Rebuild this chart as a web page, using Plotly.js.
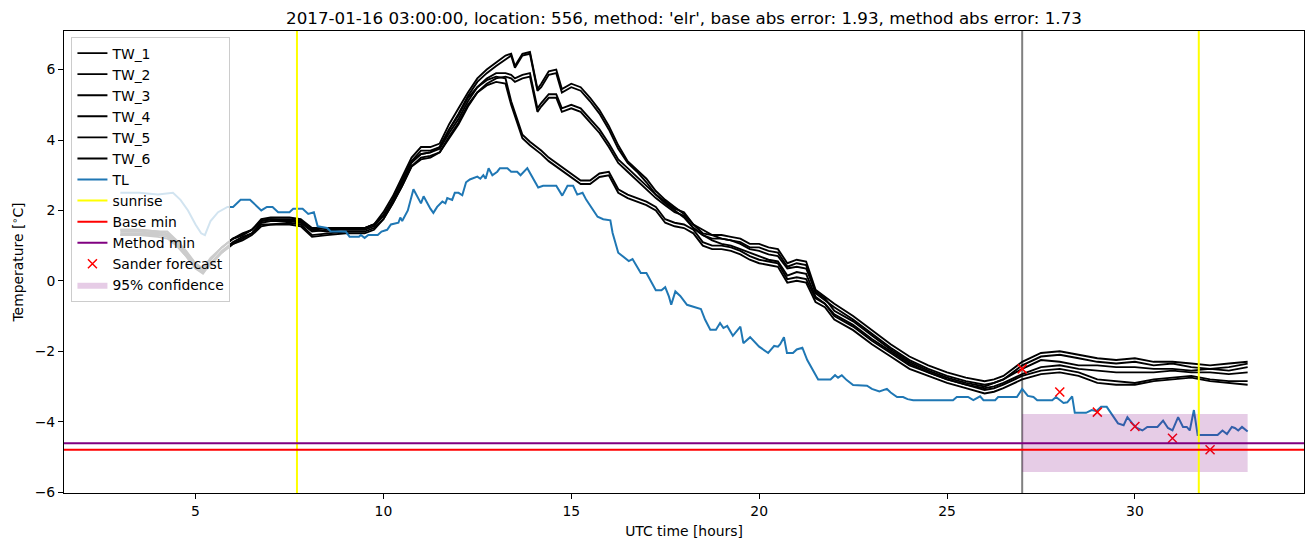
<!DOCTYPE html>
<html>
<head>
<meta charset="utf-8">
<script src="https://cdn.plot.ly/plotly-3.0.1.min.js"></script>
<style>html,body{margin:0;padding:0;background:#fff;}#chart{width:1313px;height:547px;}</style>
</head>
<body>
<div id="chart"></div>
<script>
// ---------------- DATA ----------------
const chartTitle = "2017-01-16 03:00:00, location: 556, method: 'elr', base abs error: 1.93, method abs error: 1.73";

const twHours = [
  3, 3.5, 4, 4.25, 4.5, 4.75, 5, 5.2, 5.4, 5.7,
  6, 6.25, 6.5, 6.75, 7, 7.5, 7.8, 8.1, 8.5, 9,
  9.5, 9.75, 10, 10.25, 10.5, 10.75, 11, 11.25, 11.5, 11.75,
  12, 12.25, 12.5, 12.75, 13, 13.25, 13.4, 13.5, 13.7, 13.9,
  14.1, 14.2, 14.4, 14.6, 14.75, 15, 15.25, 15.5, 15.75, 16,
  16.25, 16.5, 16.75, 17, 17.25, 17.5, 17.75, 18, 18.25, 18.5,
  18.75, 19, 19.25, 19.5, 19.75, 20, 20.25, 20.5, 20.75, 21,
  21.25, 21.5, 21.75, 22, 22.5, 23, 23.5, 24, 24.5, 25,
  25.5, 26, 26.25, 26.5, 27, 27.5, 28, 28.5, 29, 29.5,
  30, 30.5, 31, 31.5, 32, 32.5, 33
];

const tw1 = [
  1.45, 1.45, 1.4, 1.35, 1.1, 0.8, 0.45, 0.3, 0.6, 0.95,
  1.2, 1.3, 1.45, 1.75, 1.8, 1.8, 1.75, 1.5, 1.5, 1.5,
  1.5, 1.6, 1.95, 2.4, 2.95, 3.5, 3.8, 3.8, 3.9, 4.45,
  4.9, 5.35, 5.75, 6.0, 6.2, 6.4, 6.45, 6.1, 6.45, 6.5,
  5.45, 5.6, 5.95, 6.0, 5.45, 5.6, 5.5, 5.2, 4.85, 4.4,
  3.85, 3.4, 3.15, 2.9, 2.55, 2.3, 2.1, 1.9, 1.6, 1.35,
  1.3, 1.3, 1.25, 1.2, 1.05, 1.05, 0.95, 0.9, 0.5, 0.6,
  0.55, -0.25, -0.45, -0.65, -1.0, -1.4, -1.8, -2.15, -2.4, -2.6,
  -2.75, -2.85, -2.8, -2.7, -2.3, -2.05, -2.0, -2.1, -2.2, -2.25,
  -2.2, -2.3, -2.3, -2.35, -2.4, -2.35, -2.3
];
const tw2 = [
  1.35, 1.35, 1.35, 1.3, 1.05, 0.75, 0.4, 0.3, 0.5, 0.85,
  1.1, 1.25, 1.35, 1.65, 1.7, 1.7, 1.65, 1.4, 1.45, 1.45,
  1.45, 1.55, 1.85, 2.3, 2.85, 3.4, 3.7, 3.7, 3.8, 4.3,
  4.75, 5.25, 5.65, 5.9, 6.1, 6.3, 6.4, 6.05, 6.4, 6.45,
  5.4, 5.5, 5.85, 5.9, 5.35, 5.5, 5.4, 5.1, 4.75, 4.3,
  3.75, 3.35, 3.1, 2.8, 2.45, 2.2, 2.0, 1.8, 1.5, 1.3,
  1.2, 1.2, 1.15, 1.1, 0.95, 0.95, 0.85, 0.8, 0.4, 0.5,
  0.45, -0.35, -0.55, -0.75, -1.1, -1.5, -1.9, -2.25, -2.5, -2.7,
  -2.85, -2.95, -2.9, -2.8, -2.4, -2.15, -2.1, -2.2, -2.3, -2.35,
  -2.3, -2.4, -2.35, -2.45, -2.5, -2.45, -2.35
];
const tw3 = [
  1.45, 1.45, 1.4, 1.4, 1.15, 0.85, 0.5, 0.35, 0.65, 0.95,
  1.2, 1.35, 1.45, 1.7, 1.75, 1.7, 1.7, 1.45, 1.5, 1.5,
  1.5, 1.6, 1.85, 2.3, 2.8, 3.35, 3.6, 3.65, 3.75, 4.2,
  4.6, 5.1, 5.5, 5.75, 5.9, 5.9, 5.85, 5.75, 5.85, 5.9,
  4.9, 5.05, 5.3, 5.3, 4.9, 5.0, 4.9, 4.6, 4.3, 3.9,
  3.45, 3.2, 2.95, 2.7, 2.45, 2.25, 2.05, 1.95, 1.6, 1.45,
  1.3, 1.2, 1.15, 1.05, 0.9, 0.85, 0.75, 0.7, 0.35, 0.4,
  0.35, -0.3, -0.5, -0.85, -1.15, -1.55, -1.95, -2.3, -2.55, -2.75,
  -2.9, -3.0, -2.9, -2.8, -2.5, -2.25, -2.3, -2.4, -2.4, -2.45,
  -2.45, -2.5, -2.5, -2.55, -2.5, -2.55, -2.45
];
const tw4 = [
  1.3, 1.3, 1.3, 1.25, 1.0, 0.7, 0.35, 0.2, 0.5, 0.8,
  1.05, 1.2, 1.35, 1.6, 1.6, 1.65, 1.6, 1.3, 1.35, 1.4,
  1.4, 1.5, 1.75, 2.2, 2.7, 3.25, 3.5, 3.55, 3.65, 4.05,
  4.45, 4.95, 5.35, 5.6, 5.75, 5.8, 5.75, 5.65, 5.75, 5.8,
  4.8, 4.95, 5.2, 5.2, 4.8, 4.9, 4.8, 4.5, 4.2, 3.8,
  3.35, 3.1, 2.85, 2.6, 2.35, 2.15, 1.95, 1.85, 1.5, 1.3,
  1.15, 1.05, 1.0, 0.9, 0.8, 0.7, 0.6, 0.55, 0.15, 0.25,
  0.2, -0.45, -0.65, -0.95, -1.25, -1.65, -2.0, -2.35, -2.6, -2.8,
  -2.95, -3.05, -3.0, -2.9, -2.65, -2.45, -2.4, -2.5, -2.55, -2.6,
  -2.6, -2.6, -2.55, -2.6, -2.6, -2.65, -2.6
];
const tw5 = [
  1.4, 1.4, 1.35, 1.3, 1.1, 0.8, 0.45, 0.3, 0.6, 0.95,
  1.2, 1.3, 1.45, 1.7, 1.75, 1.75, 1.7, 1.45, 1.4, 1.5,
  1.5, 1.6, 1.85, 2.3, 2.85, 3.4, 3.6, 3.65, 3.8, 4.3,
  4.7, 5.2, 5.5, 5.7, 5.8, 5.75, 5.1, 4.8, 4.15, 3.95,
  3.8, 3.7, 3.5, 3.35, 3.25, 3.05, 2.85, 2.85, 3.05, 3.1,
  2.6, 2.45, 2.35, 2.25, 2.1, 1.75, 1.65, 1.6, 1.45, 1.1,
  1.0, 1.0, 0.95, 0.85, 0.7, 0.6, 0.55, 0.5, 0.05, 0.1,
  0.05, -0.5, -0.65, -1.0, -1.3, -1.7, -2.05, -2.4, -2.6, -2.8,
  -2.95, -3.1, -3.05, -2.95, -2.7, -2.55, -2.5, -2.6, -2.8, -2.85,
  -2.9, -2.8, -2.75, -2.7, -2.8, -2.85, -2.85
];
const tw6 = [
  1.3, 1.3, 1.25, 1.2, 1.0, 0.7, 0.35, 0.25, 0.45, 0.8,
  1.05, 1.15, 1.3, 1.55, 1.6, 1.6, 1.55, 1.25, 1.3, 1.35,
  1.35, 1.45, 1.75, 2.2, 2.7, 3.25, 3.45, 3.5, 3.65, 4.1,
  4.5, 5.0, 5.35, 5.55, 5.65, 5.6, 5.0, 4.7, 4.05, 3.85,
  3.7, 3.6, 3.4, 3.25, 3.15, 2.95, 2.75, 2.75, 2.95, 3.0,
  2.5, 2.35, 2.25, 2.15, 2.0, 1.65, 1.55, 1.5, 1.35, 1.0,
  0.9, 0.9, 0.85, 0.75, 0.6, 0.5, 0.45, 0.4, -0.05, 0.0,
  -0.05, -0.6, -0.75, -1.1, -1.4, -1.8, -2.15, -2.5, -2.7, -2.9,
  -3.05, -3.2, -3.15, -3.05, -2.8, -2.65, -2.6, -2.7, -2.9, -2.95,
  -2.95, -2.85, -2.8, -2.75, -2.85, -2.9, -2.95
];

const tlHours = [
  3.0, 3.5, 4.0, 4.4, 4.6, 4.8, 5.0, 5.15, 5.25, 5.4, 5.6, 5.85, 6.0, 6.1, 6.2, 6.45, 6.55, 6.75, 6.9, 7.05,
  7.2, 7.5, 7.6, 7.85, 8.0, 8.15, 8.25, 8.5, 8.6, 9.0, 9.1, 9.35, 9.4, 9.5, 9.6, 9.85, 9.95, 10.1, 10.2, 10.4,
  10.45, 10.5, 10.65, 10.8, 11.0, 11.07, 11.25, 11.33, 11.43, 11.57, 11.65, 11.7, 11.83, 11.9, 12.0, 12.1, 12.2, 12.3, 12.5, 12.58,
  12.66, 12.72, 12.8, 12.9, 13.03, 13.1, 13.3, 13.4, 13.56, 13.65, 13.83, 13.96, 14.12, 14.25, 14.6, 14.76, 14.9, 15.05, 15.16, 15.3,
  15.4, 15.7, 15.85, 16.04, 16.1, 16.25, 16.4, 16.53, 16.63, 16.75, 16.85, 17.0, 17.15, 17.25, 17.4, 17.5, 17.6, 17.66, 17.77, 17.9,
  18.08, 18.3, 18.45, 18.56, 18.7, 18.85, 18.96, 19.05, 19.15, 19.3, 19.5, 19.58, 19.76, 20.0, 20.24, 20.4, 20.5, 20.56, 20.66, 20.74,
  20.9, 21.0, 21.15, 21.28, 21.4, 21.57, 21.9, 22.02, 22.1, 22.2, 22.33, 22.5, 22.87, 23.0, 23.2, 23.4, 23.5, 23.67, 23.83, 23.95,
  24.1, 25.16, 25.26, 25.56, 25.7, 25.88, 25.97, 26.28, 26.36, 26.86, 27.0, 27.15, 27.3, 27.4, 27.8, 27.9, 28.1, 28.2, 28.33, 28.4,
  28.7, 28.85, 28.98, 29.1, 29.25, 29.4, 29.55, 29.7, 29.8, 29.93, 30.05, 30.2, 30.33, 30.6, 30.75, 30.88, 31.0, 31.15, 31.28, 31.38,
  31.46, 31.57, 31.67, 32.2, 32.33, 32.45, 32.58, 32.66, 32.75, 32.85, 33.0
];
const tlValues = [
  2.5, 2.5, 2.45, 2.5, 2.3, 2.0, 1.6, 1.35, 1.3, 1.7, 1.95, 2.1, 2.1, 2.2, 2.3, 2.3, 2.2, 2.0, 2.1, 2.1,
  1.95, 1.95, 2.05, 2.05, 1.9, 1.95, 1.55, 1.5, 1.4, 1.4, 1.25, 1.25, 1.3, 1.22, 1.3, 1.3, 1.4, 1.45, 1.6, 1.65,
  1.8, 1.7, 2.0, 2.6, 2.2, 2.4, 2.05, 1.93, 2.1, 2.25, 2.2, 2.35, 2.3, 2.5, 2.5, 2.43, 2.8, 2.88, 2.96, 2.9,
  3.0, 2.9, 3.2, 3.0, 3.1, 3.2, 3.2, 3.1, 3.1, 3.0, 3.2, 2.97, 2.65, 2.7, 2.7, 2.42, 2.7, 2.7, 2.45, 2.5,
  2.3, 1.82, 1.75, 1.72, 1.36, 0.8, 0.66, 0.56, 0.62, 0.4, 0.22, 0.22, -0.06, -0.27, -0.27, -0.18, -0.45, -0.68, -0.3, -0.43,
  -0.68, -0.75, -0.8, -1.1, -1.39, -1.39, -1.2, -1.34, -1.28, -1.56, -1.3, -1.77, -1.6, -1.87, -2.05, -1.85, -1.87, -1.8, -1.6, -2.05,
  -2.05, -1.95, -1.9, -2.25, -2.48, -2.8, -2.8, -2.68, -2.75, -2.68, -2.82, -2.96, -2.98, -3.07, -3.14, -3.07, -3.17, -3.3, -3.3, -3.36,
  -3.39, -3.39, -3.3, -3.3, -3.39, -3.28, -3.39, -3.39, -3.3, -3.3, -3.07, -3.27, -3.3, -3.39, -3.39, -3.3, -3.47, -3.45, -3.28, -3.75,
  -3.75, -3.67, -3.7, -3.58, -3.58, -3.8, -4.05, -4.1, -3.87, -4.05, -4.18, -4.25, -4.15, -4.15, -3.97, -4.18, -4.25, -3.87, -4.15, -4.15,
  -4.25, -3.67, -4.38, -4.38, -4.25, -4.35, -4.15, -4.18, -4.25, -4.15, -4.28
];

const sunriseHours = [7.7, 31.7];
const forecastHour = 27;
const baseMin = -4.8;
const methodMin = -4.61;

const sanderHours = [27, 28, 29, 30, 31, 32];
const sanderValues = [-2.5, -3.16, -3.73, -4.14, -4.47, -4.8];

const confHours = [27, 33];
const confLower = [-5.43, -5.43];
const confUpper = [-3.78, -3.78];

const twNames = ["TW_1", "TW_2", "TW_3", "TW_4", "TW_5", "TW_6"];
const twSeries = [tw1, tw2, tw3, tw4, tw5, tw6];

// ---------------- STYLE / BUILD ----------------
const FONT = "DejaVu Sans, Liberation Sans, sans-serif";
const LW = 2;
const traces = [];
twSeries.forEach((vals, i) => {
  traces.push({
    type: "scatter", mode: "lines", x: twHours, y: vals, name: twNames[i],
    line: {color: "#000000", width: 1.9}, legendrank: i + 1,
    legendgroup: "g" + i
  });
});
traces.push({
  type: "scatter", mode: "lines", x: tlHours, y: tlValues, name: "TL",
  line: {color: "#1f77b4", width: LW}, legendrank: 7, legendgroup: "g6"
});
traces.push({
  type: "scatter", mode: "markers", x: sanderHours, y: sanderValues, name: "Sander forecast",
  marker: {symbol: "x-thin", size: 9, color: "#ff0000", line: {color: "#ff0000", width: 1.5}},
  legendrank: 11, legendgroup: "g10"
});
traces.push({
  type: "scatter", mode: "lines",
  x: confHours.concat(confHours.slice().reverse()),
  y: confLower.concat(confUpper.slice().reverse()),
  fill: "toself", fillcolor: "rgba(128,0,128,0.2)",
  line: {width: 0, color: "rgba(128,0,128,0)"},
  name: "95% confidence", legendrank: 12, legendgroup: "g11"
});

const shapes = [];
shapes.push({type: "line", xref: "x", yref: "y domain", x0: forecastHour, x1: forecastHour, y0: 0, y1: 1,
  line: {color: "#808080", width: LW}, layer: "below"});
sunriseHours.forEach((h, i) => {
  shapes.push({type: "line", xref: "x", yref: "y domain", x0: h, x1: h, y0: 0, y1: 1,
    line: {color: "#ffff00", width: LW}, layer: "above",
    showlegend: i === 0, name: "sunrise", legendrank: 8, legendgroup: "g7"});
});
shapes.push({type: "line", xref: "x domain", yref: "y", x0: 0, x1: 1, y0: baseMin, y1: baseMin,
  line: {color: "#ff0000", width: LW}, layer: "above", showlegend: true, name: "Base min", legendrank: 9, legendgroup: "g8"});
shapes.push({type: "line", xref: "x domain", yref: "y", x0: 0, x1: 1, y0: methodMin, y1: methodMin,
  line: {color: "#800080", width: LW}, layer: "above", showlegend: true, name: "Method min", legendrank: 10, legendgroup: "g9"});

// matplotlib-like 5% data margins
const allX = twHours.concat(tlHours, sanderHours, confHours);
const allY = [].concat(tw1, tw2, tw3, tw4, tw5, tw6, tlValues, sanderValues, confLower, confUpper);
const xmin = Math.min(...allX), xmax = Math.max(...allX);
const ymin = Math.min(...allY), ymax = Math.max(...allY);
const xpad = (xmax - xmin) * 0.05, ypad = (ymax - ymin) * 0.05;

const axisCommon = {
  showline: true, mirror: true, linecolor: "#000", linewidth: 1,
  ticks: "outside", ticklen: 5, tickwidth: 1, tickcolor: "#000",
  showgrid: false, zeroline: false,
  tickfont: {family: FONT, size: 13.9, color: "#000"}
};

const layout = {
  width: 1313, height: 547,
  margin: {l: 64, r: 9, t: 31, b: 54},
  paper_bgcolor: "#fff", plot_bgcolor: "#fff",
  font: {family: FONT, size: 13.9, color: "#000"},
  title: {text: chartTitle, font: {family: FONT, size: 16.7, color: "#000"},
    x: 0.5, xref: "paper", y: 1 - 18 / 547, yref: "container", yanchor: "middle"},
  xaxis: Object.assign({}, axisCommon, {
    range: [xmin - xpad, xmax + xpad], tick0: 0, dtick: 5,
    title: {text: "UTC time [hours]", font: {family: FONT, size: 13.9, color: "#000"}, standoff: 8}
  }),
  yaxis: Object.assign({}, axisCommon, {
    range: [ymin - ypad, ymax + ypad], tick0: 0, dtick: 2,
    title: {text: "Temperature [<sup>∘</sup>C]", font: {family: FONT, size: 13.9, color: "#000"}, standoff: 7}
  }),
  showlegend: true,
  legend: {
    x: 0.006, y: 0.988, xanchor: "left", yanchor: "top",
    bgcolor: "rgba(255,255,255,0.8)", bordercolor: "#cccccc", borderwidth: 1,
    font: {family: FONT, size: 13.9, color: "#000"},
    traceorder: "grouped", tracegroupgap: 0
  },
  shapes: shapes
};

Plotly.newPlot("chart", traces, layout, {staticPlot: true, displayModeBar: false});
</script>
</body>
</html>
